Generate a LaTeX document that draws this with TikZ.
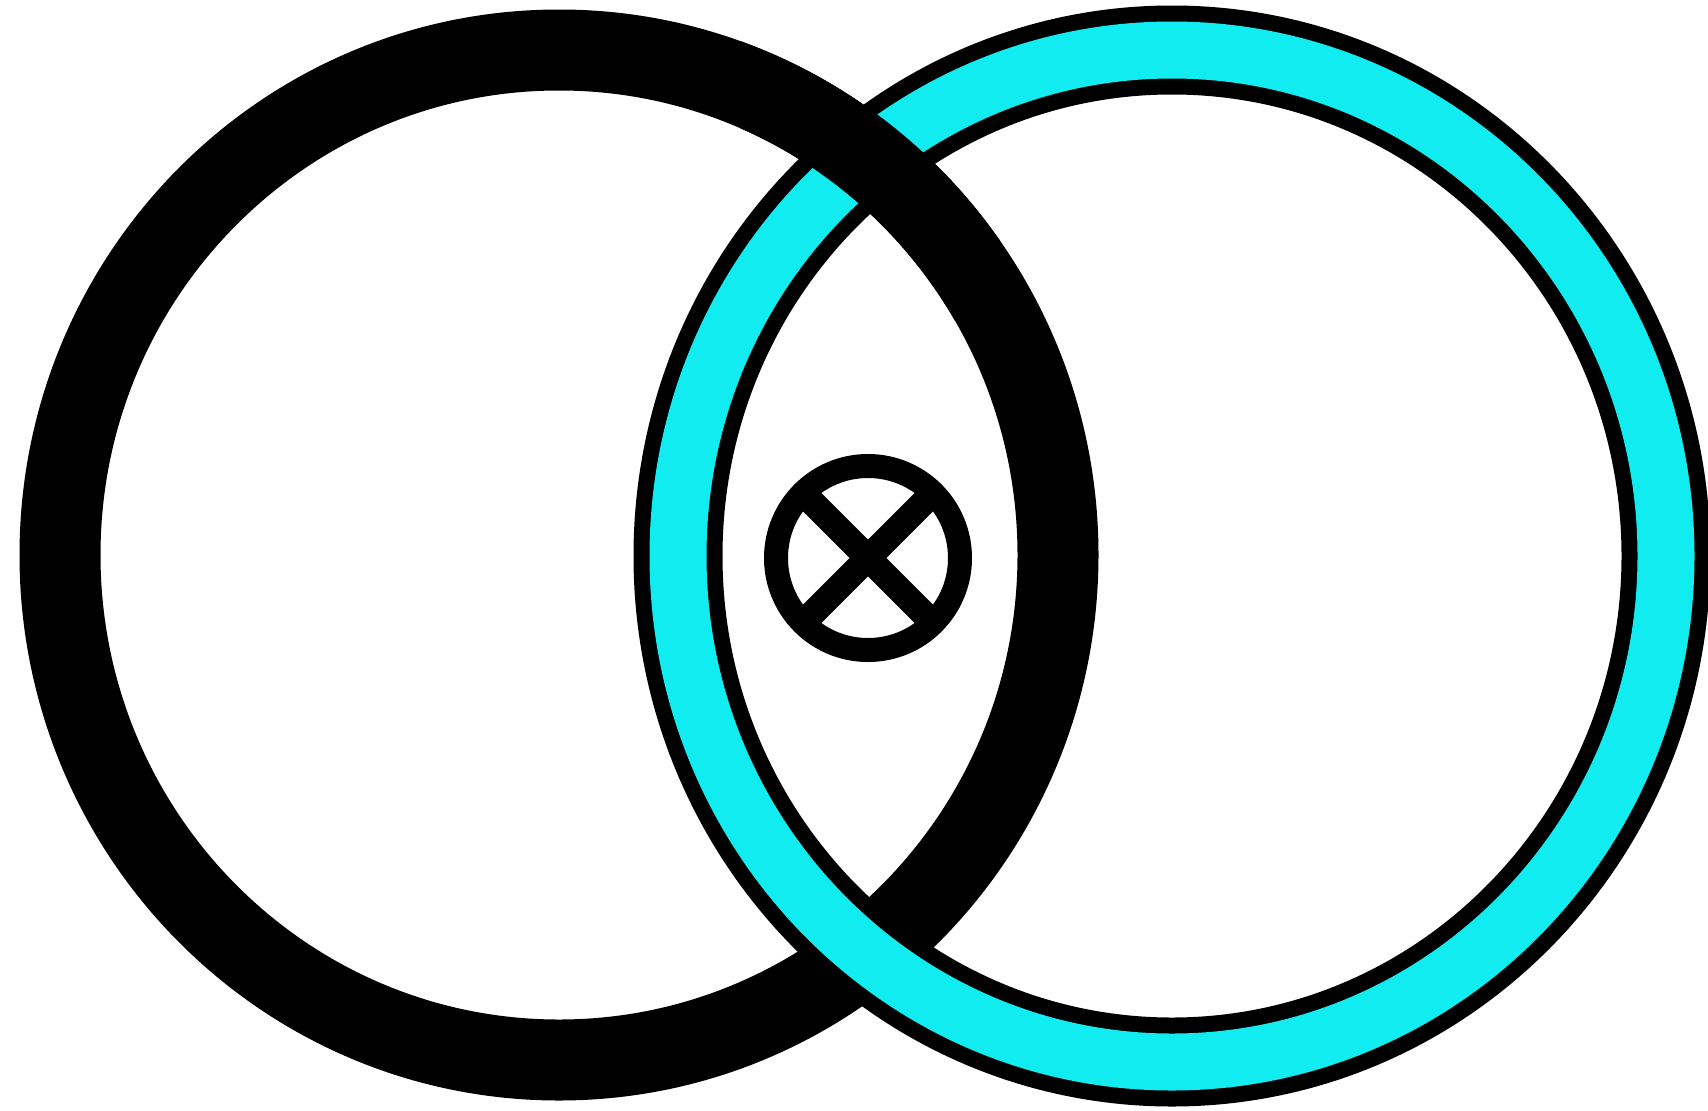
\documentclass[tikz,border=0pt]{standalone}
\usepackage{tikz}
\usetikzlibrary{calc}
\definecolor{ringcyan}{RGB}{16,236,240}
\begin{document}
\begin{tikzpicture}[x=1pt,y=-1pt,
  blackring/.style={draw=black,line width=81pt},
  cyanedge/.style={draw=black,line width=89pt},
  cyanfill/.style={draw=ringcyan,line width=57pt},
  markcircle/.style={draw=black,line width=24pt},
  markline/.style={draw=black,line width=26pt}]
\useasboundingbox[fill=white] (0,0) rectangle (1708,1111);
\coordinate (L) at (559,555);
\coordinate (R) at (1172,556);
\coordinate (M) at (868,558);
% left black ring
\draw[blackring] (L) ellipse [x radius=499, y radius=505];
% right cyan ring (over black at bottom)
\draw[cyanedge] (R) ellipse [x radius=494, y radius=506];
\draw[cyanfill] (R) ellipse [x radius=494, y radius=506];
% black ring over cyan at top crossing
\begin{scope}
\clip (740,40) rectangle (1000,320);
\draw[blackring] (L) ellipse [x radius=499, y radius=505];
\end{scope}
% centre mark
\draw[markcircle] (M) circle [radius=92];
\begin{scope}
\clip (M) circle [radius=92];
\draw[markline] ($(M)+(-70,-70)$) -- ($(M)+(70,70)$);
\draw[markline] ($(M)+(-70,70)$) -- ($(M)+(70,-70)$);
\end{scope}
\end{tikzpicture}
\end{document}
